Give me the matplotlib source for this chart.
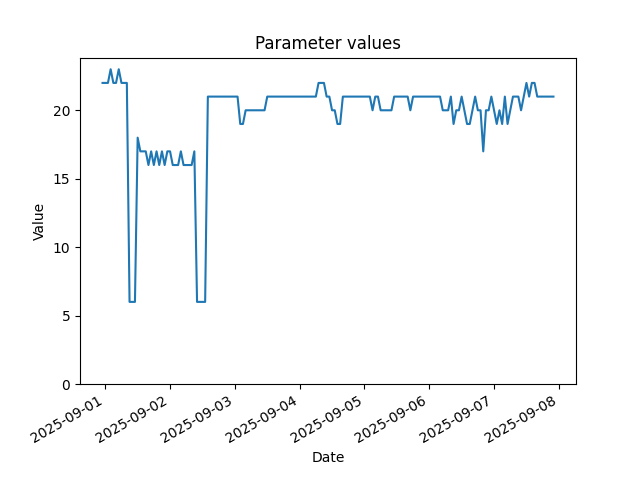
import pandas as pd
import matplotlib
matplotlib.use("Agg")
import matplotlib.pyplot as plt

# hourly readings, first one at 2025-08-31 23:00
start = "2025-08-31 23:00"
values = [
    22, 22, 22, 23, 22, 22, 23, 22, 22, 22,
    6, 6, 6, 18, 17, 17, 17, 16, 17, 16,
    17, 16, 17, 16, 17, 17, 16, 16, 16, 17,
    16, 16, 16, 16, 17, 6, 6, 6, 6, 21,
    21, 21, 21, 21, 21, 21, 21, 21, 21, 21,
    21, 19, 19, 20, 20, 20, 20, 20, 20, 20,
    20, 21, 21, 21, 21, 21, 21, 21, 21, 21,
    21, 21, 21, 21, 21, 21, 21, 21, 21, 21,
    22, 22, 22, 21, 21, 20, 20, 19, 19, 21,
    21, 21, 21, 21, 21, 21, 21, 21, 21, 21,
    20, 21, 21, 20, 20, 20, 20, 20, 21, 21,
    21, 21, 21, 21, 20, 21, 21, 21, 21, 21,
    21, 21, 21, 21, 21, 21, 20, 20, 20, 21,
    19, 20, 20, 21, 20, 19, 19, 20, 21, 20,
    20, 17, 20, 20, 21, 20, 19, 20, 19, 21,
    19, 20, 21, 21, 21, 20, 21, 22, 21, 22,
    22, 21, 21, 21, 21, 21, 21, 21,
]
dates = pd.date_range(start, periods=len(values), freq="h")

fig, ax = plt.subplots(figsize=(6.4, 4.8), dpi=100)
ax.plot(dates, values)
ax.set_ylim(bottom=0)
ax.set_title("Parameter values")
ax.set_xlabel("Date")
ax.set_ylabel("Value")
fig.autofmt_xdate()

fig.savefig("out.png")
